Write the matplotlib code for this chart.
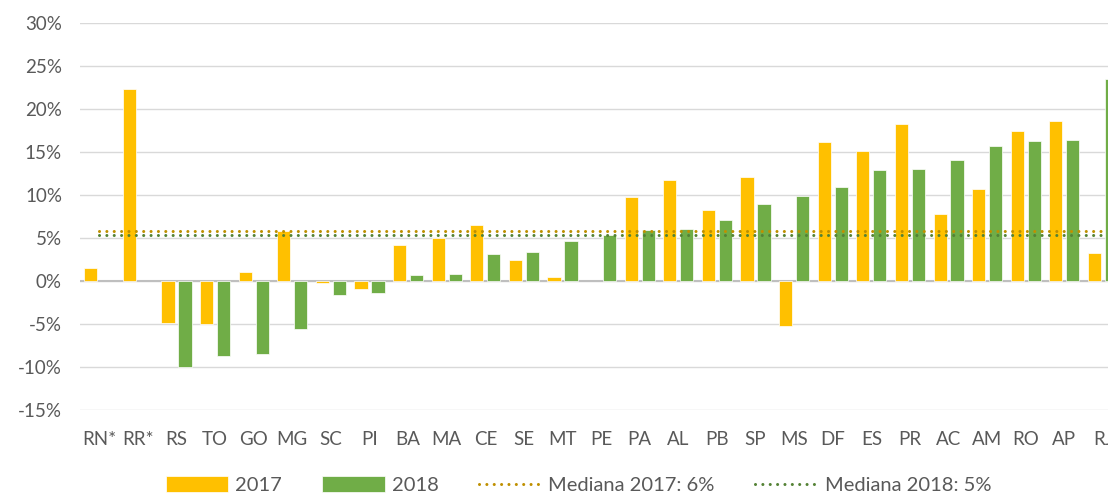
import numpy as np
import matplotlib
matplotlib.use("Agg")
import matplotlib.pyplot as plt
import matplotlib.ticker as mtick

plt.rcParams['font.family'] = ['Lato', 'DejaVu Sans']

estados = ['RN*', 'RR*', 'RS', 'TO', 'GO', 'MG', 'SC', 'PI', 'BA', 'MA', 'CE', 'SE', 'MT',
           'PE', 'PA', 'AL', 'PB', 'SP', 'MS', 'DF', 'ES', 'PR', 'AC', 'AM', 'RO', 'AP', 'RJ']
v2017 = [1.5, 22.3, -4.9, -5.0, 1.0, 5.8, -0.2, -0.9, 4.2, 5.0, 6.5, 2.4, 0.45,
         np.nan, 9.75, 11.8, 8.3, 12.1, -5.25, 16.2, 15.1, 18.2, 7.8, 10.7, 17.4, 18.6, 3.2]
v2018 = [np.nan, np.nan, -10.0, -8.7, -8.5, -5.6, -1.6, -1.4, 0.7, 0.8, 3.1, 3.35, 4.6,
         5.4, 5.9, 6.0, 7.1, 8.9, 9.9, 10.9, 12.85, 13.0, 14.05, 15.7, 16.3, 16.4, 23.5]
mediana2017 = 5.87
mediana2018 = 5.37

amarelo = '#FFC000'
verde = '#70AD47'
cinza = '#595959'

fig = plt.figure(figsize=(11.08, 4.93), dpi=100)
ax = fig.add_axes([80/1108, 83/493, 1 - 80/1108, 387/493])

x = np.arange(len(estados))
w = 0.34
b1 = ax.bar(x - 0.22, v2017, w, color=amarelo, edgecolor='white', linewidth=0.5, label='2017', zorder=3)
b2 = ax.bar(x + 0.22, v2018, w, color=verde, edgecolor='white', linewidth=0.5, label='2018', zorder=3)

l1, = ax.plot(x, [mediana2017]*len(x), color='#BF9000', lw=2.2, ls=(0, (0.01, 2.4)),
              dash_capstyle='round', label='Mediana 2017: 6%', zorder=4)
l2, = ax.plot(x, [mediana2018]*len(x), color='#548235', lw=2.2, ls=(0, (0.01, 2.4)),
              dash_capstyle='round', label='Mediana 2018: 5%', zorder=4)

ax.set_ylim(-15, 30)
ax.set_xlim(-0.5, 26.13)
ax.set_yticks(np.arange(-15, 31, 5))
ax.yaxis.set_major_formatter(mtick.FormatStrFormatter('%.0f%%'))
ax.set_xticks(x)
ax.set_xticklabels(estados)
ax.grid(axis='y', color='#D9D9D9', lw=1, zorder=0)
ax.axhline(0, color='#BFBFBF', lw=1.5, zorder=2)
for s in ax.spines.values():
    s.set_visible(False)
ax.tick_params(axis='both', length=0, colors=cinza, labelsize=13.5)
ax.tick_params(axis='y', pad=13)
ax.tick_params(axis='x', pad=15)

fig.legend([b1, b2, l1, l2], ['2017', '2018', 'Mediana 2017: 6%', 'Mediana 2018: 5%'],
           loc='center', bbox_to_anchor=(0.522, 0.016), ncol=4, frameon=False,
           fontsize=14.5, labelcolor=cinza, handlelength=3.1, handleheight=0.8,
           handletextpad=0.35, columnspacing=2.0)

fig.savefig('out.png', dpi=100)
